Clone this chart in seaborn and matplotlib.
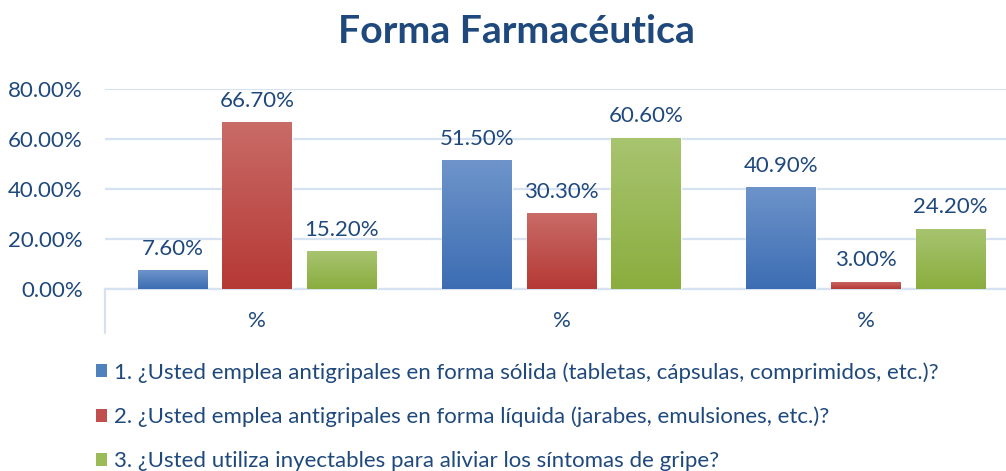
import numpy as np
import pandas as pd
import matplotlib
matplotlib.use("Agg")
import matplotlib.pyplot as plt
import seaborn as sns
from matplotlib.colors import LinearSegmentedColormap
from matplotlib.patches import Patch

# --- data ---
categories = ["g1", "g2", "g3"]
tick_labels = ["%", "%", "%"]
series = [
    "1. ¿Usted emplea antigripales en forma sólida (tabletas, cápsulas, comprimidos, etc.)?",
    "2. ¿Usted emplea antigripales en forma líquida (jarabes, emulsiones, etc.)?",
    "3. ¿Usted utiliza inyectables para aliviar los síntomas de gripe?",
]
solida = [7.6, 51.5, 40.9]
liquida = [66.7, 30.3, 3.0]
inyectables = [15.2, 60.6, 24.2]
y_ticks = [0, 20, 40, 60, 80]

# colours (solid for legend, gradient top/bottom for bars)
solid_colors = ["#4F81BD", "#C0504D", "#9BBB59"]
grad_top = ["#6E94CA", "#C96B67", "#A8C470"]
grad_bottom = ["#3C6DB3", "#B53935", "#8AAD3E"]
text_color = "#1F497D"
grid_color = "#D6E2F2"

rows = []
for name, vals in zip(series, [solida, liquida, inyectables]):
    for cat, v in zip(categories, vals):
        rows.append({"cat": cat, "serie": name, "valor": v})
df = pd.DataFrame(rows)

sns.set_theme(style="white")
plt.rcParams["font.family"] = ["Lato", "DejaVu Sans"]

fig = plt.figure(figsize=(10.06, 4.71), dpi=100)
ax = fig.add_axes([105 / 1006, 1 - 289 / 471, 913 / 1006, 200 / 471])

sns.barplot(data=df, x="cat", y="valor", hue="serie", order=categories,
            hue_order=series, palette=solid_colors, width=0.835, gap=0.18,
            ax=ax, legend=False, saturation=1, zorder=3)

# gradient fill for every bar
grad = np.linspace(0, 1, 256).reshape(-1, 1)
for i, cont in enumerate(ax.containers):
    cmap = LinearSegmentedColormap.from_list(f"g{i}", [grad_bottom[i], grad_top[i]])
    for bar in cont:
        x0, y0 = bar.get_x(), bar.get_y()
        w, h = bar.get_width(), bar.get_height()
        im = ax.imshow(grad, cmap=cmap, origin="lower", aspect="auto",
                       extent=[x0, x0 + w, y0, y0 + h], zorder=4)
        im.set_clip_path(bar)
    ax.bar_label(cont, labels=[f"{v:.2f}%" for v in cont.datavalues],
                 padding=8, fontsize=16, color=text_color, zorder=5)

ax.set_xlim(-0.5, 2.5)
ax.set_ylim(0, 80)
ax.set_yticks(y_ticks)
ax.set_yticklabels([f"{v:.2f}%" for v in y_ticks], fontsize=16, color=text_color)
ax.set_xticks(range(len(categories)))
ax.set_xticklabels(tick_labels, fontsize=16, color=text_color)
ax.tick_params(axis="y", length=0, pad=16)
ax.tick_params(axis="x", length=0, pad=16)
ax.set_xlabel("")
ax.set_ylabel("")
ax.yaxis.grid(True, color=grid_color, linewidth=1.6, zorder=0)
ax.set_axisbelow(True)
for side in ["top", "right", "left"]:
    ax.spines[side].set_visible(False)
ax.spines["bottom"].set_color(grid_color)
ax.spines["bottom"].set_linewidth(1.6)
# short left line below the category axis
ax.plot([0, 0], [0, -0.22], transform=ax.transAxes, color=grid_color,
        linewidth=1.6, clip_on=False)

fig.text(516 / 1006, 1 - 43 / 471, "Forma Farmacéutica", ha="center",
         va="baseline", fontsize=28.3, fontweight="bold", color=text_color)

handles = [Patch(facecolor=c, edgecolor="none") for c in solid_colors]
leg = fig.legend(handles, series, loc="upper left",
                 bbox_to_anchor=(96 / 1006, 1 - 362 / 471), frameon=False,
                 fontsize=16, handlelength=0.5, handleheight=0.5,
                 handletextpad=0.3, labelspacing=1.08, borderpad=0,
                 borderaxespad=0)
for t in leg.get_texts():
    t.set_color(text_color)

fig.savefig("out.png", dpi=100)
